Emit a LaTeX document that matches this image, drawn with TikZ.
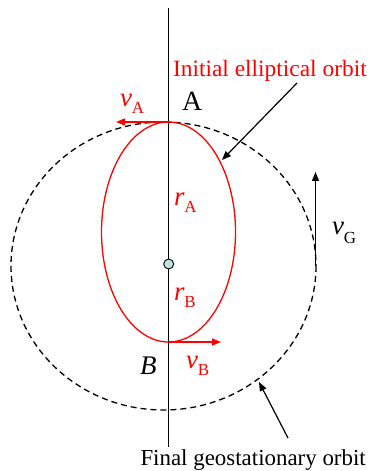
\documentclass[tikz,border=0pt]{standalone}
\usepackage{fontspec}
\setmainfont{Liberation Serif}
\usetikzlibrary{arrows.meta}
\newcommand\fsz[1]{\fontsize{#1}{#1}\selectfont}
\definecolor{dotfill}{RGB}{190,225,225}
\tikzset{
  lbl/.style={anchor=base west, inner sep=0pt, outer sep=0pt},
  redlbl/.style={lbl, text=red},
  redarrow/.style={red, line width=1.4bp, -{Triangle[length=9bp,width=7bp]}},
  blackarrow/.style={black, line width=1.2bp, -{Triangle[length=9bp,width=7bp]}},
  orbitell/.style={red, line width=1.3bp},
  geoorbit/.style={black, line width=1.3bp, dash pattern=on 6bp off 4bp},
}
\begin{document}
\begin{tikzpicture}[x=1bp, y=-1bp]
\useasboundingbox (0,0) rectangle (373,471);
% axis
\coordinate (top) at (168.5,8);
\coordinate (bot) at (168.5,447);
\draw[line width=1.1bp] (top) -- (bot);
% orbits
\draw[geoorbit] (163.5,266) ellipse [x radius=152.5, y radius=144];
\draw[orbitell] (168.5,232) ellipse [x radius=67, y radius=110];
\coordinate (A) at (168.5,122);
\coordinate (B) at (168.5,342);
\coordinate (vAend) at (116,122);
\coordinate (vBend) at (221,342);
\draw[redarrow] (A) -- (vAend);
\draw[redarrow] (B) -- (vBend);
% focus
\node[circle, draw=black, fill=dotfill, line width=0.9bp, minimum size=10bp, inner sep=0pt] (F) at (168.7,264) {};
% vG
\coordinate (vGs) at (315.5,266);
\coordinate (vGe) at (315.5,172);
\draw[blackarrow] (vGs) -- (vGe);
% labels
\node[lbl] (Alab) at (182,111) {\fsz{28}A};
\node[lbl] (Blab) at (140,374) {\fsz{27}\itshape B};
\node[redlbl] (vA) at (120,106.5) {{\fsz{27}\itshape v}\raisebox{-7bp}{\fsz{17}A}};
\node[redlbl] (vB) at (186,368) {{\fsz{27}\itshape v}\raisebox{-7bp}{\fsz{17}B}};
\node[redlbl] (rA) at (174,206) {{\fsz{27}\itshape r}\raisebox{-7bp}{\fsz{17}A}};
\node[redlbl] (rB) at (174,300) {{\fsz{27}\itshape r}\raisebox{-7bp}{\fsz{17}B}};
\node[lbl] (vG) at (332,235) {{\fsz{27}\itshape v}\raisebox{-8bp}{\fsz{17}G}};
\node[redlbl] (init) at (173,77) {\fsz{23.5}Initial elliptical orbit};
\node[lbl] (final) at (140.5,465.5) {\fsz{23}Final geostationary orbit};
% pointer arrows
\coordinate (ip) at (297,83);
\coordinate (it) at (222,160);
\draw[blackarrow] (ip) -- (it);
\coordinate (fp) at (288,438);
\coordinate (ft) at (259,382);
\draw[blackarrow] (fp) -- (ft);
\end{tikzpicture}
\end{document}
